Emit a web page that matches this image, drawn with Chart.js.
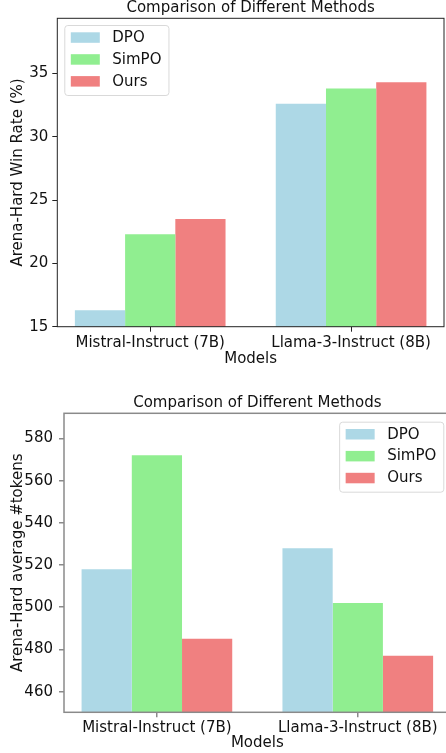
<!DOCTYPE html>
<html>
<head>
<meta charset="utf-8">
<script src="https://cdn.jsdelivr.net/npm/chart.js@4.4.1/dist/chart.umd.min.js"></script>
<style>
  html, body { margin: 0; padding: 0; background: #fff; overflow: hidden; }
  #wrap { width: 446px; height: 753px; overflow: hidden; position: relative; }
  #c1 { position: absolute; left: 0; top: 0; }
  #c2 { position: absolute; left: 0; top: 370px; }
</style>
</head>
<body>
<div id="wrap">
  <canvas id="c1" width="446" height="370"></canvas>
  <canvas id="c2" width="462" height="383"></canvas>
</div>
<script>
// DATA
const models = ['Mistral-Instruct (7B)', 'Llama-3-Instruct (8B)'];
const methods = ['DPO', 'SimPO', 'Ours'];
const methodColors = ['#ADD8E6', '#90EE90', '#F08080'];

const winRateDPO = [16.3, 32.6];
const winRateSimPO = [22.3, 33.8];
const winRateOurs = [23.5, 34.3];
const winRateTicks = [15, 20, 25, 30, 35];

const tokensDPO = [518, 528];
const tokensSimPO = [572, 502];
const tokensOurs = [485, 477];
const tokenTicks = [460, 480, 500, 520, 540, 560, 580];

const FONT = '"DejaVu Sans", "Liberation Sans", sans-serif';
const TEXT = '#111';

// frame (all four spines) + title over the axes
const framePlugin = {
  id: 'framePlugin',
  afterDatasetsDraw(chart, args, opts) {
    const a = chart.chartArea;
    const ctx = chart.ctx;
    ctx.save();
    ctx.strokeStyle = opts.color;
    ctx.lineWidth = opts.width;
    ctx.strokeRect(a.left, a.top, a.right - a.left, a.bottom - a.top);
    ctx.fillStyle = TEXT;
    ctx.font = '15px ' + FONT;
    ctx.textAlign = 'center';
    ctx.textBaseline = 'alphabetic';
    ctx.fillText(opts.title, (a.left + a.right) / 2, a.top - 6);
    ctx.restore();
  }
};

// legend box drawn inside the axes, like matplotlib
const insetLegend = {
  id: 'insetLegend',
  afterDraw(chart, args, opts) {
    const ctx = chart.ctx;
    const a = chart.chartArea;
    const sets = chart.data.datasets;
    ctx.save();
    ctx.font = '15px ' + FONT;
    let textW = 0;
    sets.forEach(d => { textW = Math.max(textW, ctx.measureText(d.label).width); });
    const w = 48 + textW + 7;
    const h = 70;
    const x = opts.side === 'right' ? a.right - 7.4 - w : a.left + 7;
    const y = a.top + opts.top;
    ctx.beginPath();
    ctx.roundRect(x + 0.5, y + 0.5, w, h, 3);
    ctx.fillStyle = 'rgba(255,255,255,0.8)';
    ctx.fill();
    ctx.strokeStyle = '#d9d9d9';
    ctx.lineWidth = 1;
    ctx.stroke();
    sets.forEach((d, i) => {
      const cy = y + 12.5 + i * 21.9;
      ctx.fillStyle = d.backgroundColor;
      ctx.fillRect(x + 6.5, cy - 5.2, 29, 10.5);
      ctx.fillStyle = TEXT;
      ctx.textBaseline = 'middle';
      ctx.textAlign = 'left';
      ctx.fillText(d.label, x + 48, cy + 0.5);
    });
    ctx.restore();
  }
};

function drawChart(canvasID, series, yTicks, cfg) {
  const datasets = series.map((values, i) => ({
    label: methods[i],
    data: values.map((v, j) => ({ x: j, y: v })),
    backgroundColor: methodColors[i],
    borderWidth: 0
  }));

  const chartConfig = {
    type: 'bar',
    data: { datasets: datasets },
    options: {
      responsive: false,
      animation: false,
      devicePixelRatio: 1,
      layout: { autoPadding: false, padding: cfg.padding },
      datasets: { bar: { categoryPercentage: 0.75, barPercentage: 1 } },
      scales: {
        x: {
          type: 'linear',
          offset: false,
          min: -0.4625,
          max: 1.4625,
          afterBuildTicks: (scale) => { scale.ticks = models.map((m, i) => ({ value: i })); },
          afterFit: (scale) => { scale.height = cfg.xHeight; },
          grid: { display: true, offset: false, drawOnChartArea: false, drawTicks: true, tickLength: 5, color: cfg.spine, lineWidth: cfg.spineWidth },
          border: { display: false },
          ticks: {
            autoSkip: false, maxRotation: 0, padding: 2,
            color: TEXT, font: { family: FONT, size: 15 },
            callback: (v) => models[v]
          },
          title: { display: true, text: 'Models', color: TEXT, font: { family: FONT, size: 15 }, padding: { top: 0, bottom: cfg.xTitlePad } }
        },
        y: {
          min: cfg.yMin,
          max: cfg.yMax,
          afterBuildTicks: (scale) => { scale.ticks = yTicks.map(v => ({ value: v })); },
          afterFit: (scale) => { scale.width = cfg.yWidth; },
          grid: { display: true, drawOnChartArea: false, drawTicks: true, tickLength: 5, color: cfg.spine, lineWidth: cfg.spineWidth },
          border: { display: false },
          ticks: { padding: cfg.yTickPad, color: TEXT, font: { family: FONT, size: 15 } },
          title: { display: true, text: cfg.yTitle, color: TEXT, font: { family: FONT, size: 15 }, padding: { top: 9, bottom: 0 } }
        }
      },
      plugins: {
        legend: { display: false },
        tooltip: { enabled: false },
        framePlugin: { color: cfg.spine, width: cfg.spineWidth, title: 'Comparison of Different Methods' },
        insetLegend: { side: cfg.legendSide, top: cfg.legendTop }
      }
    },
    plugins: [framePlugin, insetLegend]
  };

  new Chart(document.getElementById(canvasID), chartConfig);
}

drawChart('c1', [winRateDPO, winRateSimPO, winRateOurs], winRateTicks, {
  padding: { left: 0, top: 18.3, right: 2, bottom: 0 },
  yMin: 15, yMax: 39.35,
  yWidth: 57.3, xHeight: 43.3, xTitlePad: 2, yTickPad: 4,
  yTitle: 'Arena-Hard Win Rate (%)',
  spine: '#222222', spineWidth: 1,
  legendSide: 'left', legendTop: 6.7
});

drawChart('c2', [tokensDPO, tokensSimPO, tokensOurs], tokenTicks, {
  padding: { left: 0, top: 43.3, right: 11.3, bottom: 0 },
  yMin: 450.2, yMax: 591.9,
  yWidth: 64, xHeight: 40.7, xTitlePad: 0.5, yTickPad: 6,
  yTitle: 'Arena-Hard average #tokens',
  spine: '#8a8a8a', spineWidth: 1.5,
  legendSide: 'right', legendTop: 8.4
});
</script>
</body>
</html>
